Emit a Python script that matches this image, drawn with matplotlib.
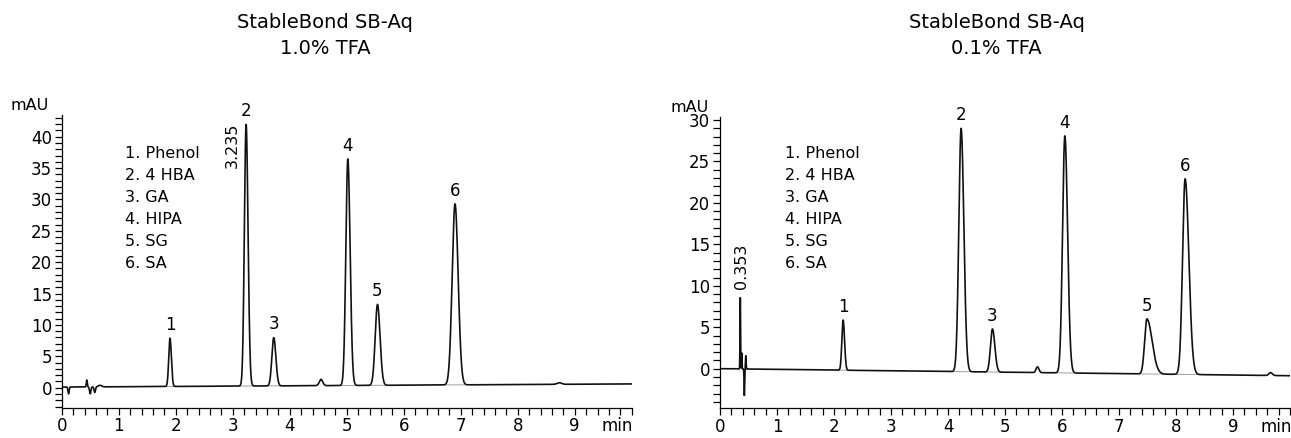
import matplotlib
matplotlib.use("Agg")
import matplotlib.pyplot as plt
import numpy as np
from matplotlib.ticker import MultipleLocator

plt.rcParams["font.family"] = ["DejaVu Sans"]

W, H = 1291, 438

legend_lines = ["1. Phenol", "2. 4 HBA", "3. GA", "4. HIPA", "5. SG", "6. SA"]

# 1.0% TFA run: retention time (min), height above baseline (mAU), left/right sigma (min)
rt_1 = [0.12, 0.44, 0.50, 0.58, 0.67, 1.90, 3.235, 3.72, 4.55, 5.02, 5.54, 6.90, 8.73]
h_1 = [-1.1, 1.1, -1.1, -0.9, 0.25, 7.7, 41.7, 7.7, 1.0, 36.1, 12.9, 28.85, 0.25]
sl_1 = [0.010, 0.008, 0.012, 0.012, 0.03, 0.022, 0.030, 0.033, 0.03, 0.035, 0.040, 0.050, 0.04]
sr_1 = [0.010, 0.008, 0.012, 0.012, 0.03, 0.024, 0.034, 0.037, 0.03, 0.040, 0.045, 0.055, 0.04]
base_1 = (0.1, 0.05)  # offset, drift per min
labels_1 = {"1": 1.90, "2": 3.235, "3": 3.72, "4": 5.02, "5": 5.54, "6": 6.90}

# 0.1% TFA run
rt_2 = [0.356, 0.382, 0.427, 0.452, 2.16, 4.23, 4.78, 5.57, 6.05, 7.49, 8.16, 9.66]
h_2 = [8.6, 1.9, -3.2, 1.6, 6.05, 29.35, 5.2, 0.7, 28.6, 6.65, 23.6, 0.35]
sl_2 = [0.005, 0.004, 0.005, 0.005, 0.022, 0.040, 0.035, 0.025, 0.040, 0.040, 0.045, 0.03]
sr_2 = [0.005, 0.004, 0.005, 0.005, 0.025, 0.048, 0.042, 0.025, 0.048, 0.090, 0.065, 0.03]
base_2 = (0.0, -0.085)
labels_2 = {"1": 2.16, "2": 4.23, "3": 4.78, "4": 6.05, "5": 7.49, "6": 8.16}

t = np.linspace(0, 10, 10001)

FS_TICK = 12
FS_TEXT = 11.5


def trace(rts, hs, sls, srs, base):
    y = base[0] + base[1] * t
    for rt, h, sl, sr in zip(rts, hs, sls, srs):
        s = np.where(t < rt, sl, sr)
        y = y + h * np.exp(-0.5 * ((t - rt) / s) ** 2)
    return y


def draw_panel(ax, rts, hs, sls, srs, base, labels, ylim, ymajor):
    y = trace(rts, hs, sls, srs, base)
    # integration baselines under the named peaks
    for rt, h, sl, sr in zip(rts, hs, sls, srs):
        if rt in labels.values():
            a, b = rt - 3.2 * sl, rt + 3.2 * sr
            ax.plot([a, b], [base[0] + base[1] * a, base[0] + base[1] * b],
                    color="#a0a0a0", lw=0.7, zorder=1)
    ax.plot(t, y, color="#111111", lw=1.2, zorder=2)
    for lab, rt in labels.items():
        ax.annotate(lab, (rt, np.interp(rt, t, y)), xytext=(0, 3), textcoords="offset points",
                    ha="center", va="bottom", fontsize=FS_TICK, annotation_clip=False)
    ax.set_xlim(0, 10)
    ax.set_ylim(*ylim)
    ax.xaxis.set_minor_locator(MultipleLocator(0.2))
    ax.yaxis.set_major_locator(MultipleLocator(ymajor))
    ax.yaxis.set_minor_locator(MultipleLocator(1))
    ax.set_xticks(range(10))
    ax.set_xticklabels([str(i) for i in range(10)])
    ax.tick_params(which="both", direction="out", length=5, width=0.9, labelsize=FS_TICK, pad=2)
    for s in ("top", "right"):
        ax.spines[s].set_visible(False)
    for s in ("left", "bottom"):
        ax.spines[s].set_linewidth(0.9)
    ax.annotate("min", (9.75, 0), xycoords=ax.get_xaxis_transform(), xytext=(0, -7),
                textcoords="offset points", ha="center", va="top", fontsize=FS_TICK,
                annotation_clip=False)
    return y


fig = plt.figure(figsize=(W / 100, H / 100), dpi=100)

ax1 = fig.add_axes([61.7 / W, 1 - 407.7 / H, 570 / W, 292.7 / H])
draw_panel(ax1, rt_1, h_1, sl_1, sr_1, base_1, labels_1, (-3.19, 43.46), 5)
ax1.text(2.99, 42.2, "3.235", rotation=90, ha="center", va="top", fontsize=FS_TEXT)
for i, line in enumerate(legend_lines):
    ax1.annotate(line, (1.11, 37.4), xytext=(0, -i * 15.9), textcoords="offset points",
                 ha="left", va="center", fontsize=FS_TEXT)

ax2 = fig.add_axes([720 / W, 1 - 408.3 / H, 570 / W, 291.6 / H])
draw_panel(ax2, rt_2, h_2, sl_2, sr_2, base_2, labels_2, (-4.78, 30.4), 5)
ax2.text(0.37, 9.6, "0.353", rotation=90, ha="center", va="bottom", fontsize=FS_TEXT)
for i, line in enumerate(legend_lines):
    ax2.annotate(line, (1.14, 26.0), xytext=(0, -i * 15.9), textcoords="offset points",
                 ha="left", va="center", fontsize=FS_TEXT)

fig.text(30 / W, 1 - 105 / H, "mAU", ha="center", va="center", fontsize=FS_TEXT)
fig.text(690 / W, 1 - 107 / H, "mAU", ha="center", va="center", fontsize=FS_TEXT)

for cx, sub in ((325, "1.0% TFA"), (996.7, "0.1% TFA")):
    fig.text(cx / W, 1 - 22 / H, "StableBond SB-Aq", ha="center", va="center", fontsize=14)
    fig.text(cx / W, 1 - 49 / H, sub, ha="center", va="center", fontsize=14)

fig.savefig("out.png", dpi=100)
